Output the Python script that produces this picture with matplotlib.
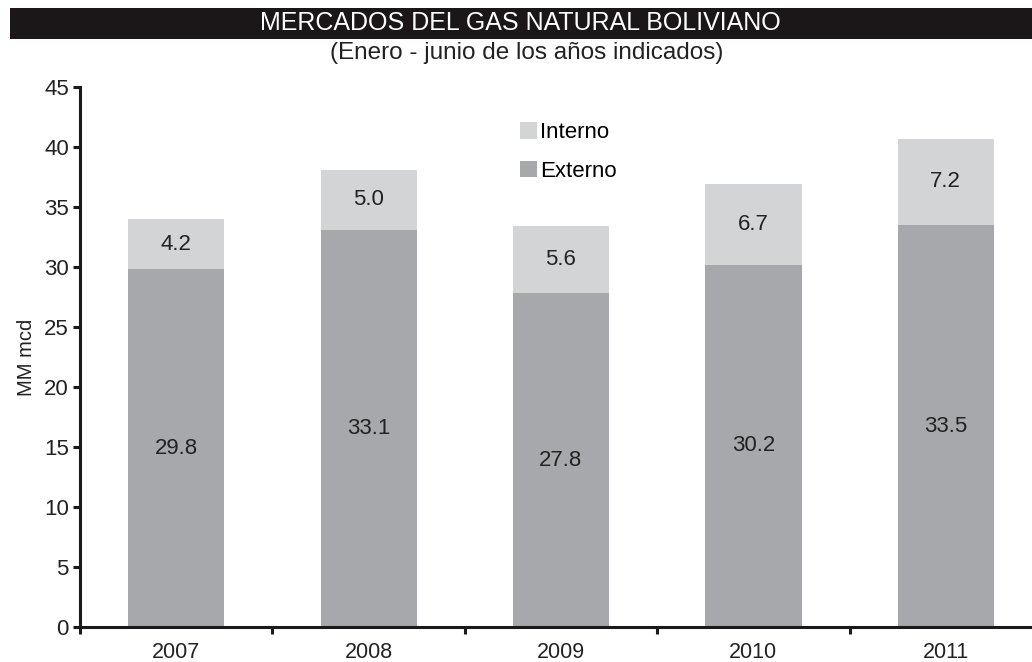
import matplotlib
matplotlib.use("Agg")
import matplotlib.pyplot as plt
from matplotlib.patches import Rectangle

years = ["2007", "2008", "2009", "2010", "2011"]
externo = [29.8, 33.1, 27.8, 30.2, 33.5]
interno = [4.2, 5.0, 5.6, 6.7, 7.2]
yticks = [0, 5, 10, 15, 20, 25, 30, 35, 40, 45]

c_ext = "#A7A8AB"
c_int = "#D3D4D6"
txt = "#222222"

plt.rcParams["font.family"] = ["Liberation Sans", "DejaVu Sans"]

fig = plt.figure(figsize=(10.32, 6.62), dpi=100)
W, H = 1032, 662
x0, x1 = 80, 1042
y0, y1 = 627, 87
ax = fig.add_axes([x0 / W, 1 - y0 / H, (x1 - x0) / W, (y0 - y1) / H])

xs = list(range(len(years)))
ax.bar(xs, externo, width=0.5, color=c_ext, label="Externo", zorder=2)
ax.bar(xs, interno, width=0.5, bottom=externo, color=c_int, label="Interno", zorder=2)

for i in xs:
    ax.text(i, externo[i] / 2, f"{externo[i]:.1f}", ha="center", va="center", fontsize=16, color=txt)
    ax.text(i, externo[i] + interno[i] / 2, f"{interno[i]:.1f}", ha="center", va="center", fontsize=16, color=txt)

ax.set_xlim(-0.5, 4.5)
ax.set_ylim(0, 45)
ax.set_yticks(yticks)
ax.set_yticklabels([str(v) for v in yticks], fontsize=16, color=txt)
ax.set_xticks([i - 0.5 for i in xs] + [4.5])
ax.set_xticklabels([])
ax.set_xticks(xs, minor=True)
ax.set_xticklabels(years, minor=True, fontsize=15.5, color=txt)
ax.tick_params(axis="x", which="minor", length=0, pad=11)
ax.tick_params(axis="x", which="major", length=5, width=2.2, direction="out", color="#1a1a1a")
ax.tick_params(axis="y", length=5, width=2.2, direction="out", color="#1a1a1a", pad=3)

for s in ["top", "right"]:
    ax.spines[s].set_visible(False)
for s in ["left", "bottom"]:
    ax.spines[s].set_linewidth(2.2)
    ax.spines[s].set_color("#1a1a1a")

ax.set_ylabel("MM mcd", fontsize=14.5, color=txt, labelpad=6)

handles, labels = ax.get_legend_handles_labels()
ax.legend(handles[::-1], labels[::-1], loc="upper left",
          bbox_to_anchor=((509 - x0) / (x1 - x0), (y0 - 118 + 7) / (y0 - y1)),
          frameon=False, fontsize=16, handlelength=0.75, handleheight=0.75, handletextpad=0.15,
          labelspacing=0.8, borderpad=0)

# Title bar
fig.patches.append(Rectangle((10 / W, 1 - 39 / H), (W - 10) / W, 31 / H, transform=fig.transFigure,
                             facecolor="#1b1718", edgecolor="none"))
fig.text(520 / W, 1 - 23 / H, "MERCADOS DEL GAS NATURAL BOLIVIANO", ha="center", va="center",
         color="white", fontsize=18)
fig.text(527 / W, 1 - 53 / H, "(Enero - junio de los años indicados)", ha="center", va="center",
         color=txt, fontsize=17.5)

fig.savefig("out.png", dpi=100)
